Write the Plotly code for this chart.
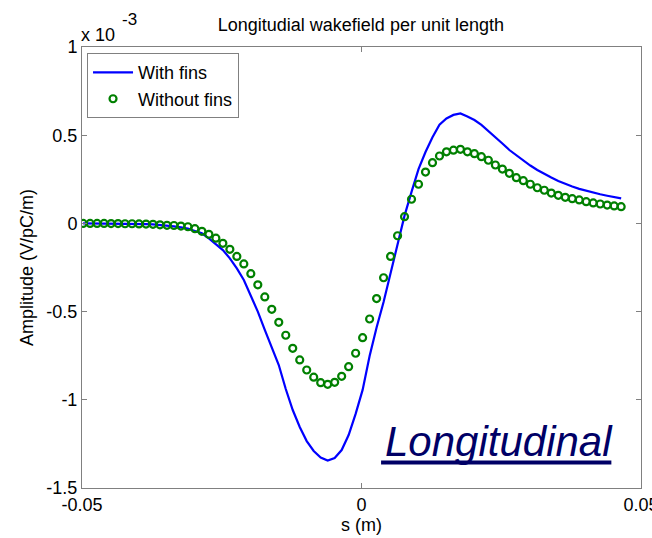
import plotly.graph_objects as go

# s positions (m) of the sampled points
s_vals = [-0.0498 + 0.00125 * i for i in range(78)]
s_vals = [round(v, 5) for v in s_vals]

# Amplitude in units of 1e-3 V/pC/m
with_fins = [
    0.000, 0.000, 0.000, 0.000, -0.001, -0.001, -0.002, -0.002, -0.003, -0.004,
    -0.006, -0.009, -0.013, -0.017, -0.023, -0.030, -0.043, -0.056, -0.085, -0.119,
    -0.151, -0.198, -0.255, -0.321, -0.406, -0.500, -0.604, -0.699, -0.803, -0.939,
    -1.058, -1.154, -1.234, -1.290, -1.327, -1.344, -1.330, -1.285, -1.200, -1.080,
    -0.944, -0.752, -0.590, -0.446, -0.280, -0.115, 0.044, 0.179, 0.308, 0.405,
    0.488, 0.560, 0.595, 0.615, 0.623, 0.606, 0.586, 0.558, 0.524, 0.490,
    0.453, 0.416, 0.385, 0.357, 0.328, 0.303, 0.280, 0.260, 0.240, 0.223,
    0.209, 0.196, 0.185, 0.175, 0.165, 0.157, 0.150, 0.142,
]
without_fins = [
    0.000, 0.000, 0.000, 0.000, -0.001, -0.001, -0.002, -0.002, -0.003, -0.004,
    -0.005, -0.008, -0.011, -0.012, -0.015, -0.019, -0.030, -0.045, -0.062, -0.084,
    -0.113, -0.147, -0.187, -0.230, -0.285, -0.348, -0.417, -0.487, -0.561, -0.634,
    -0.708, -0.774, -0.831, -0.872, -0.903, -0.912, -0.901, -0.867, -0.812, -0.736,
    -0.648, -0.542, -0.426, -0.308, -0.187, -0.070, 0.038, 0.137, 0.222, 0.291,
    0.344, 0.382, 0.406, 0.415, 0.420, 0.406, 0.395, 0.378, 0.358, 0.331,
    0.308, 0.284, 0.259, 0.242, 0.222, 0.202, 0.188, 0.172, 0.159, 0.148,
    0.140, 0.133, 0.123, 0.116, 0.110, 0.104, 0.099, 0.095,
]

x_ticks = [-0.05, 0, 0.05]
x_tick_text = ["-0.05", "0", "0.05"]
y_ticks = [-1.5, -1, -0.5, 0, 0.5, 1]
y_tick_text = ["-1.5", "-1", "-0.5", "0", "0.5", "1"]

FONT = "Liberation Sans, Arial, Helvetica, sans-serif"

fig = go.Figure()
fig.add_trace(go.Scatter(
    x=s_vals, y=with_fins, mode="lines", name="With fins",
    line=dict(color="#0000FF", width=2.2),
))
fig.add_trace(go.Scatter(
    x=s_vals, y=without_fins, mode="markers", name="Without fins",
    marker=dict(symbol="circle-open", size=7, color="#008000",
                line=dict(color="#008000", width=2.2)),
))

axis_common = dict(
    showgrid=False, zeroline=False, showline=True, linecolor="#808080",
    linewidth=1, mirror="ticks", ticks="inside", ticklen=5, tickcolor="#808080",
    tickfont=dict(family=FONT, size=18, color="black"),
    ticklabeloverflow="allow", automargin=False,
)
fig.update_xaxes(range=[-0.05, 0.05], tickvals=x_ticks, ticktext=x_tick_text,
                 title=dict(text="s (m)", font=dict(family=FONT, size=18, color="black"),
                            standoff=2),
                 **axis_common)
fig.update_yaxes(range=[-1.5, 1], tickvals=y_ticks, ticktext=y_tick_text,
                 title=dict(text="Amplitude (V/pC/m)",
                            font=dict(family=FONT, size=18, color="black"), standoff=8),
                 **axis_common)

fig.update_layout(
    width=652, height=538,
    margin=dict(l=82, r=11, t=47, b=50, autoexpand=False),
    paper_bgcolor="white", plot_bgcolor="white",
    font=dict(family=FONT, size=18, color="black"),
    title=dict(text="Longitudial wakefield per unit length", x=0.5535, xanchor="center",
               y=1 - 25 / 538, yanchor="middle",
               font=dict(family=FONT, size=18, color="black")),
    legend=dict(x=0.009, y=0.986, xanchor="left", yanchor="top",
                bgcolor="white", bordercolor="#808080", borderwidth=1,
                font=dict(family=FONT, size=18, color="black"),
                tracegroupgap=0, itemwidth=40),
    showlegend=True,
)

fig.add_annotation(x=0, y=1, xref="paper", yref="paper", xanchor="left", yanchor="middle",
                   text="x 10", showarrow=False, xshift=-3, yshift=12,
                   font=dict(family=FONT, size=18, color="black"))
fig.add_annotation(x=0, y=1, xref="paper", yref="paper", xanchor="left", yanchor="middle",
                   text="-3", showarrow=False, xshift=38, yshift=28,
                   font=dict(family=FONT, size=17, color="black"))

fig.add_annotation(x=0.0453, y=-1.235, xref="x", yref="y", xanchor="right", yanchor="middle",
                   text="<i>Longitudinal</i>", showarrow=False,
                   font=dict(family=FONT, size=42, color="#000066"))
fig.add_shape(type="line", xref="x", yref="y", x0=0.0035, x1=0.0447, y0=-1.355, y1=-1.355,
              line=dict(color="#000066", width=4))

fig.write_html("out.html")
